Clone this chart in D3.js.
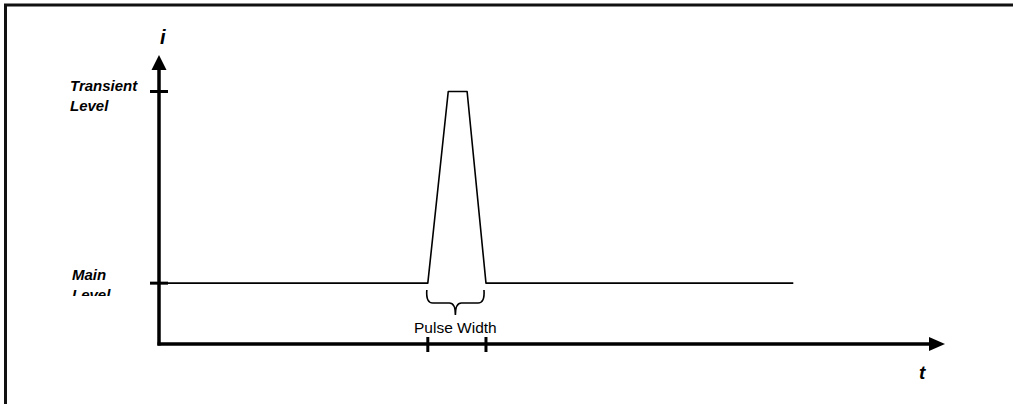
<!DOCTYPE html>
<html>
<head>
<meta charset="utf-8">
<script src="https://cdn.jsdelivr.net/npm/d3@7"></script>
<style>
  html, body { margin: 0; padding: 0; background: #fff; overflow: hidden; }
  svg { display: block; }
</style>
</head>
<body>
<div id="chart"></div>
<script>
// ---- data ----
const pulseTimes  = [0, 34.2, 36.8, 39.2, 41.6, 80.7];   // time (arbitrary units)
const pulseLevels = [1, 1, 4.15, 4.15, 1, 1];             // current (arbitrary units)
const levelTicks  = [1, 4.15];
const levelLabels = [["Main", "Level"], ["Transient", "Level"]];
const timeTicks   = [34.2, 41.6];
const braceLabel  = "Pulse Width";
const xAxisLabel  = "t";
const yAxisLabel  = "i";

const W = 1013, H = 404;
const svg = d3.select("#chart").append("svg").attr("width", W).attr("height", H);

const x = d3.scaleLinear().domain([0, 100]).range([159, 945]);
const y = d3.scaleLinear().domain([0, 4.75]).range([344, 55]);

// frame (only top/left visible in the picture)
svg.append("path").attr("d", `M5.5,${H + 5} L5.5,5 L${W + 5},5`)
  .attr("fill", "none").attr("stroke", "#111").attr("stroke-width", 3);

const defs = svg.append("defs");
defs.append("clipPath").attr("id", "mainclip").append("rect")
  .attr("x", 0).attr("y", 0).attr("width", W).attr("height", 296);

// axes lines
const g = svg.append("g");
g.append("line").attr("x1", x(0)).attr("x2", x(0)).attr("y1", y(0) + 1.5).attr("y2", y(4.75) + 14)
  .attr("stroke", "#000").attr("stroke-width", 3.5);
g.append("line").attr("x1", x(0) - 1.5).attr("x2", x(100) - 14).attr("y1", y(0)).attr("y2", y(0))
  .attr("stroke", "#000").attr("stroke-width", 3.5);
// arrowheads
g.append("path").attr("d", `M${x(0)},${y(4.75)} L${x(0) - 7.5},${y(4.75) + 15} L${x(0) + 7.5},${y(4.75) + 15} Z`).attr("fill", "#000");
g.append("path").attr("d", `M${x(100)},${y(0)} L${x(100) - 16},${y(0) - 7} L${x(100) - 16},${y(0) + 7} Z`).attr("fill", "#000");

// y ticks
levelTicks.forEach(v => {
  g.append("line").attr("x1", x(0) - 9).attr("x2", x(0) + 9).attr("y1", y(v)).attr("y2", y(v))
    .attr("stroke", "#000").attr("stroke-width", 3);
});
// x ticks
timeTicks.forEach(v => {
  g.append("line").attr("x1", x(v)).attr("x2", x(v)).attr("y1", y(0) - 7).attr("y2", y(0) + 8)
    .attr("stroke", "#000").attr("stroke-width", 3);
});

// signal
const line = d3.line().x((d, i) => x(pulseTimes[i])).y(d => y(d));
g.append("path").datum(pulseLevels).attr("d", line)
  .attr("fill", "none").attr("stroke", "#000").attr("stroke-width", 1.6).attr("stroke-linejoin", "round");

// brace
const bx0 = x(timeTicks[0]) - 1, bx1 = x(timeTicks[1]) - 2, bm = (bx0 + bx1) / 2;
const by0 = 290, by1 = 303, by2 = 315;
g.append("path")
  .attr("d", `M${bx0},${by0} Q${bx0 - 1},${by1} ${bx0 + 6},${by1} L${bm - 6},${by1} Q${bm},${by1} ${bm},${by2} Q${bm},${by1} ${bm + 6},${by1} L${bx1 - 6},${by1} Q${bx1 + 1},${by1} ${bx1},${by0}`)
  .attr("fill", "none").attr("stroke", "#000").attr("stroke-width", 1.6);

svg.append("text").attr("x", bm).attr("y", 333).attr("text-anchor", "middle")
  .attr("font-family", "Liberation Sans, Arial, sans-serif").attr("font-size", 15.5).attr("fill", "#000")
  .text(braceLabel);

// level labels
const labelPos = [{x: 72, y: 280, clip: true}, {x: 70, y: 91, clip: false}];
levelLabels.forEach((lines, k) => {
  const t = svg.append("text").attr("x", labelPos[k].x).attr("y", labelPos[k].y)
    .attr("font-family", "Liberation Sans, Arial, sans-serif").attr("font-size", 15)
    .attr("font-weight", "bold").attr("font-style", "italic").attr("fill", "#000");
  if (labelPos[k].clip) t.attr("clip-path", "url(#mainclip)");
  lines.forEach((s, j) => {
    t.append("tspan").attr("x", labelPos[k].x).attr("dy", j === 0 ? 0 : 20).text(s);
  });
});

// axis labels
svg.append("text").attr("x", 160).attr("y", 44)
  .attr("font-family", "Liberation Sans, Arial, sans-serif").attr("font-size", 20)
  .attr("font-weight", "bold").attr("font-style", "italic").text(yAxisLabel);
svg.append("text").attr("x", 919).attr("y", 379)
  .attr("font-family", "Liberation Sans, Arial, sans-serif").attr("font-size", 19)
  .attr("font-weight", "bold").attr("font-style", "italic").text(xAxisLabel);
</script>
</body>
</html>
